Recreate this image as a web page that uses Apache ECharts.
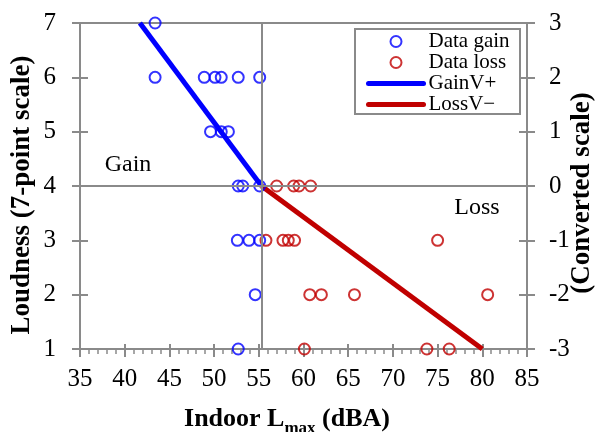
<!DOCTYPE html>
<html>
<head>
<meta charset="utf-8">
<script src="https://cdn.jsdelivr.net/npm/echarts@6/dist/echarts.min.js"></script>
<style>
html,body{margin:0;padding:0;background:#fff;}
#c{width:595px;height:432px;}
</style>
</head>
<body>
<div id="c"></div>
<script>
// ---- data ----
var gainX = [43.4, 43.4, 48.9, 50.1, 50.8, 52.7, 55.1, 49.6, 50.8, 51.6, 52.7, 53.2, 55.1, 52.6, 53.9, 55.1, 54.6, 52.7];
var gainY = [7, 6, 6, 6, 6, 6, 6, 5, 5, 5, 4, 4, 4, 3, 3, 3, 2, 1];
var lossX = [57.0, 58.9, 59.5, 60.8, 55.8, 57.7, 58.3, 59.0, 75.0, 60.7, 62.0, 65.7, 80.6, 60.1, 73.8, 76.3];
var lossY = [4, 4, 4, 4, 3, 3, 3, 3, 3, 2, 2, 2, 2, 1, 1, 1];
var gainLineX = [41.7, 55.3];
var gainLineY = [7, 4];
var lossLineX = [55.3, 80.0];
var lossLineY = [4, 1];
var refX = 55.3;
var refY = 4;
var xTicks = {min: 35, max: 85, step: 5};
var yLeftTicks = {min: 1, max: 7, step: 1};
var yRightTicks = {min: -3, max: 3, step: 1};

function pairs(xs, ys) { return xs.map(function (x, i) { return [x, ys[i]]; }); }

var FF = "'Liberation Serif','Times New Roman',serif";
var GRAY = '#8a8a8a';
var BLUE = '#0000FF';
var RED = '#C00000';

// measure text widths for the x-axis title pieces
var mctx = document.createElement('canvas').getContext('2d');
function tw(font, s) { mctx.font = font; return mctx.measureText(s).width; }
var fMain = 'bold 26px ' + FF;
var fSub = 'bold 17px ' + FF;
var t1 = 'Indoor L', t2 = 'max', t3 = ' (dBA)';
var w1 = tw(fMain, t1), w2 = tw(fSub, t2), w3 = tw(fMain, t3);
var titleCx = 287;
var x0 = titleCx - (w1 + w2 + w3) / 2;

var chart = echarts.init(document.getElementById('c'), null, {renderer: 'canvas'});

function xAx(inside) {
  return {
    type: 'value', min: xTicks.min, max: xTicks.max, interval: xTicks.step,
    position: 'bottom',
    axisLine: {show: !inside, onZero: false, lineStyle: {color: GRAY, width: 2}},
    axisTick: {show: true, inside: inside, length: inside ? 5 : 8, lineStyle: {color: GRAY, width: 2}},
    minorTick: {show: !inside, splitNumber: 5, length: 5, lineStyle: {color: GRAY, width: 1.5}},
    splitLine: {show: false},
    axisLabel: {show: !inside, margin: 18, fontSize: 25, color: '#000', fontFamily: FF}
  };
}
function yAx(side, t, inside, margin) {
  return {
    type: 'value', min: t.min, max: t.max, interval: t.step,
    position: side,
    axisLine: {show: !inside, onZero: false, lineStyle: {color: GRAY, width: 2}},
    axisTick: {show: true, inside: inside, length: 8, lineStyle: {color: GRAY, width: 2}},
    splitLine: {show: false},
    axisLabel: {show: !inside, margin: margin, fontSize: 25, color: '#000', fontFamily: FF}
  };
}

var hiddenDot = {color: 'rgba(0,0,0,0)', borderWidth: 0, opacity: 0};

var option = {
  backgroundColor: '#fff',
  animation: false,
  grid: {left: 80, right: 68, top: 23, bottom: 83, show: true, borderColor: GRAY, borderWidth: 2, backgroundColor: 'transparent'},
  xAxis: [xAx(false), xAx(true)],
  yAxis: [
    yAx('left', yLeftTicks, false, 24),
    yAx('left', yLeftTicks, true, 0),
    yAx('right', yRightTicks, false, 22),
    yAx('right', yRightTicks, true, 0)
  ],
  legend: {
    orient: 'vertical', left: 366, top: 31, itemWidth: 55, itemHeight: 11, itemGap: 0, padding: 0,
    selectedMode: false, z: 10,
    textStyle: {fontSize: 21, lineHeight: 21, fontFamily: FF, color: '#000'},
    data: [
      {name: 'Data gain', icon: 'circle', itemStyle: {color: 'rgba(0,0,0,0)', borderColor: BLUE, borderWidth: 2}},
      {name: 'Data loss', icon: 'circle', itemStyle: {color: 'rgba(0,0,0,0)', borderColor: RED, borderWidth: 2}},
      {name: 'GainV+', lineStyle: {width: 5, color: BLUE, cap: 'round'}, itemStyle: hiddenDot},
      {name: 'LossV\u2212', lineStyle: {width: 5, color: RED, cap: 'round'}, itemStyle: hiddenDot}
    ]
  },
  graphic: [
    {type: 'rect', z: 5, shape: {x: 355, y: 29, width: 165, height: 85}, style: {fill: '#fff', stroke: GRAY, lineWidth: 2}},
    {type: 'text', x: 128, y: 165, z: 6, style: {text: 'Gain', font: '24px ' + FF, fill: '#000', align: 'center', verticalAlign: 'middle'}},
    {type: 'text', x: 477, y: 208, z: 6, style: {text: 'Loss', font: '24px ' + FF, fill: '#000', align: 'center', verticalAlign: 'middle'}},
    {type: 'text', x: 22, y: 195, rotation: Math.PI / 2, z: 6,
      style: {text: 'Loudness (7-point scale)', font: 'bold 27px ' + FF, fill: '#000', align: 'center', verticalAlign: 'middle'}},
    {type: 'text', x: 582, y: 193, rotation: Math.PI / 2, z: 6,
      style: {text: '(Converted scale)', font: 'bold 27px ' + FF, fill: '#000', align: 'center', verticalAlign: 'middle'}},
    {type: 'text', x: x0, y: 432, z: 6, style: {text: t1, font: fMain, fill: '#000', align: 'left', verticalAlign: 'bottom'}},
    {type: 'text', x: x0 + w1, y: 437, z: 6, style: {text: t2, font: fSub, fill: '#000', align: 'left', verticalAlign: 'bottom'}},
    {type: 'text', x: x0 + w1 + w2, y: 432, z: 6, style: {text: t3, font: fMain, fill: '#000', align: 'left', verticalAlign: 'bottom'}}
  ],
  series: [
    {
      name: 'ref', type: 'line', data: [], z: 1, silent: true,
      markLine: {
        silent: true, symbol: 'none', animation: false,
        label: {show: false},
        lineStyle: {color: GRAY, width: 2, type: 'solid'},
        data: [{xAxis: refX}, {yAxis: refY}]
      }
    },
    {
      name: 'GainV+', type: 'line', data: pairs(gainLineX, gainLineY), symbol: 'none', z: 3,
      lineStyle: {color: BLUE, width: 5}, itemStyle: {color: BLUE}
    },
    {
      name: 'LossV\u2212', type: 'line', data: pairs(lossLineX, lossLineY), symbol: 'none', z: 3,
      lineStyle: {color: RED, width: 5}, itemStyle: {color: RED}
    },
    {
      name: 'Data gain', type: 'scatter', data: pairs(gainX, gainY), symbol: 'circle', symbolSize: 11, clip: false, z: 4,
      itemStyle: {color: 'rgba(0,0,0,0)', borderColor: BLUE, borderWidth: 2}
    },
    {
      name: 'Data loss', type: 'scatter', data: pairs(lossX, lossY), symbol: 'circle', symbolSize: 11, clip: false, z: 4,
      itemStyle: {color: 'rgba(0,0,0,0)', borderColor: RED, borderWidth: 2}
    }
  ]
};
chart.setOption(option);
</script>
</body>
</html>
